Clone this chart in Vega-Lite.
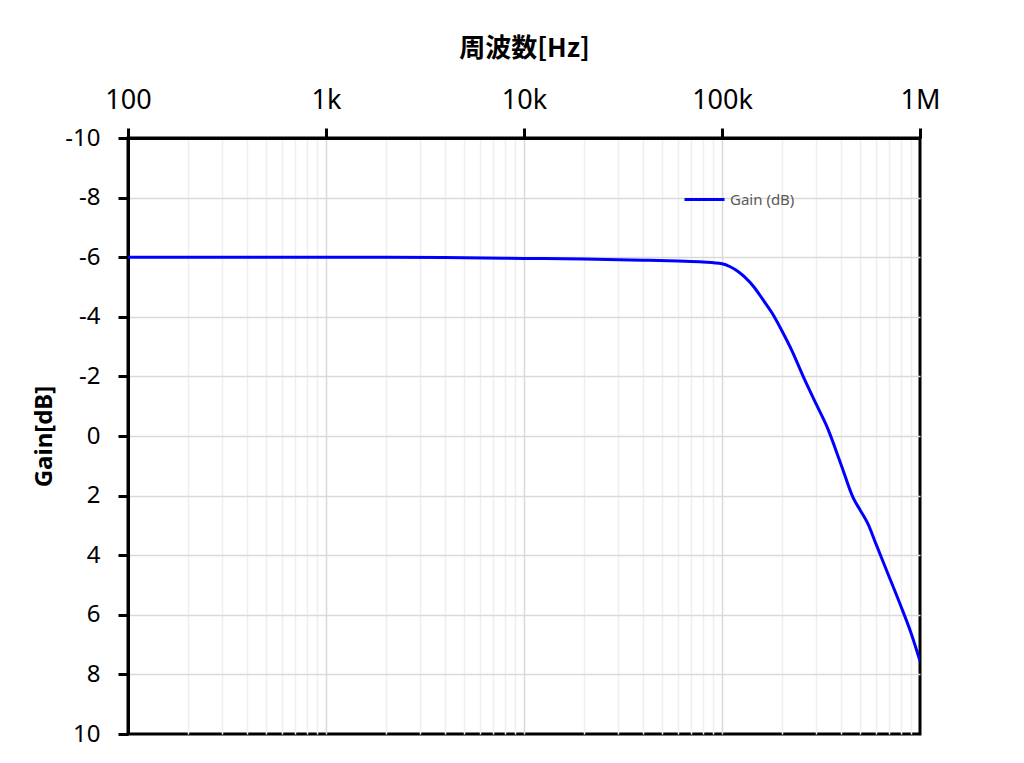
{
  "$schema": "https://vega.github.io/schema/vega-lite/v6.json",
  "width": 792,
  "height": 596,
  "autosize": "none",
  "padding": {"left": 128, "top": 138, "right": 104, "bottom": 29},
  "background": "white",
  "config": {
    "view": {"stroke": "black", "strokeWidth": 3},
    "font": "Noto Sans"
  },
  "data": {
    "values": [
      {"freq": 100, "gain": -6.0},
      {"freq": 200, "gain": -6.0},
      {"freq": 500, "gain": -6.0},
      {"freq": 1000, "gain": -6.0},
      {"freq": 2000, "gain": -6.0},
      {"freq": 5000, "gain": -5.98},
      {"freq": 10000, "gain": -5.96},
      {"freq": 20000, "gain": -5.94},
      {"freq": 40000, "gain": -5.9},
      {"freq": 60000, "gain": -5.87},
      {"freq": 80000, "gain": -5.84},
      {"freq": 100000, "gain": -5.78},
      {"freq": 110000, "gain": -5.68},
      {"freq": 120000, "gain": -5.53},
      {"freq": 130000, "gain": -5.34},
      {"freq": 145000, "gain": -5.0},
      {"freq": 160000, "gain": -4.6},
      {"freq": 180000, "gain": -4.1},
      {"freq": 200000, "gain": -3.55},
      {"freq": 226000, "gain": -2.85},
      {"freq": 257000, "gain": -2.0},
      {"freq": 300000, "gain": -1.05},
      {"freq": 338000, "gain": -0.33},
      {"freq": 400000, "gain": 0.97},
      {"freq": 460000, "gain": 2.08},
      {"freq": 500000, "gain": 2.5},
      {"freq": 546000, "gain": 2.95},
      {"freq": 600000, "gain": 3.63},
      {"freq": 679000, "gain": 4.52},
      {"freq": 793000, "gain": 5.64},
      {"freq": 900000, "gain": 6.6},
      {"freq": 1000000, "gain": 7.55}
    ]
  },
  "mark": {"type": "line", "strokeWidth": 3, "interpolate": "monotone", "clip": true},
  "encoding": {
    "x": {
      "field": "freq",
      "type": "quantitative",
      "scale": {"type": "log", "domain": [100, 1000000], "nice": false},
      "axis": {
        "orient": "top",
        "title": "周波数[Hz]",
        "titleFont": "Noto Sans CJK JP",
        "titleFontSize": 26,
        "titleFontWeight": "bold",
        "titleColor": "black",
        "titleBaseline": "alphabetic",
        "titleY": -82,
        "values": [100,200,300,400,500,600,700,800,900,1000,2000,3000,4000,5000,6000,7000,8000,9000,10000,20000,30000,40000,50000,60000,70000,80000,90000,100000,200000,300000,400000,500000,600000,700000,800000,900000,1000000],
        "labelExpr": "datum.value==100?'100':datum.value==1000?'1k':datum.value==10000?'10k':datum.value==100000?'100k':datum.value==1000000?'1M':''",
        "labelFontSize": 27,
        "labelColor": "black",
        "labelBaseline": "alphabetic",
        "labelPadding": 20,
        "labelOverlap": false,
        "labelFlush": false,
        "tickSize": 10,
        "tickWidth": 3,
        "tickColor": {"condition": {"test": "indexof([100,1000,10000,100000,1000000], datum.value) >= 0", "value": "black"}, "value": "transparent"},
        "domainColor": "black",
        "domainWidth": 3,
        "grid": true,
        "gridWidth": 1.5,
        "gridColor": {"condition": {"test": "indexof([1000,10000,100000], datum.value) >= 0", "value": "#d9d9d9"}, "value": "#efefef"},
        "gridOpacity": {"condition": {"test": "datum.value == 100 || datum.value == 1000000", "value": 0}, "value": 1}
      }
    },
    "y": {
      "field": "gain",
      "type": "quantitative",
      "scale": {"domain": [-10, 10], "reverse": true, "nice": false},
      "axis": {
        "orient": "left",
        "title": "Gain[dB]",
        "titleFontSize": 24,
        "titleFontWeight": "bold",
        "titleColor": "black",
        "titleBaseline": "middle",
        "titleX": -84,
        "values": [-10,-8,-6,-4,-2,0,2,4,6,8,10],
        "labelExpr": "replace(datum.label, '−', '-')",
        "labelFontSize": 24,
        "labelColor": "black",
        "labelPadding": 18,
        "tickSize": 10,
        "tickWidth": 3,
        "tickColor": "black",
        "domainColor": "black",
        "domainWidth": 3,
        "grid": true,
        "gridWidth": 1.5,
        "gridColor": {"condition": {"test": "datum.value == 10 || datum.value == -10", "value": "transparent"}, "value": "#d9d9d9"}
      }
    },
    "color": {
      "datum": "Gain (dB)",
      "scale": {"range": ["#0000ff"]},
      "legend": {
        "title": null,
        "orient": "none",
        "legendX": 555,
        "legendY": 40,
        "padding": 0,
        "symbolType": "stroke",
        "symbolSize": 1600,
        "symbolStrokeWidth": 3,
        "labelFontSize": 15,
        "labelColor": "#595959",
        "labelOffset": 4
      }
    }
  }
}
